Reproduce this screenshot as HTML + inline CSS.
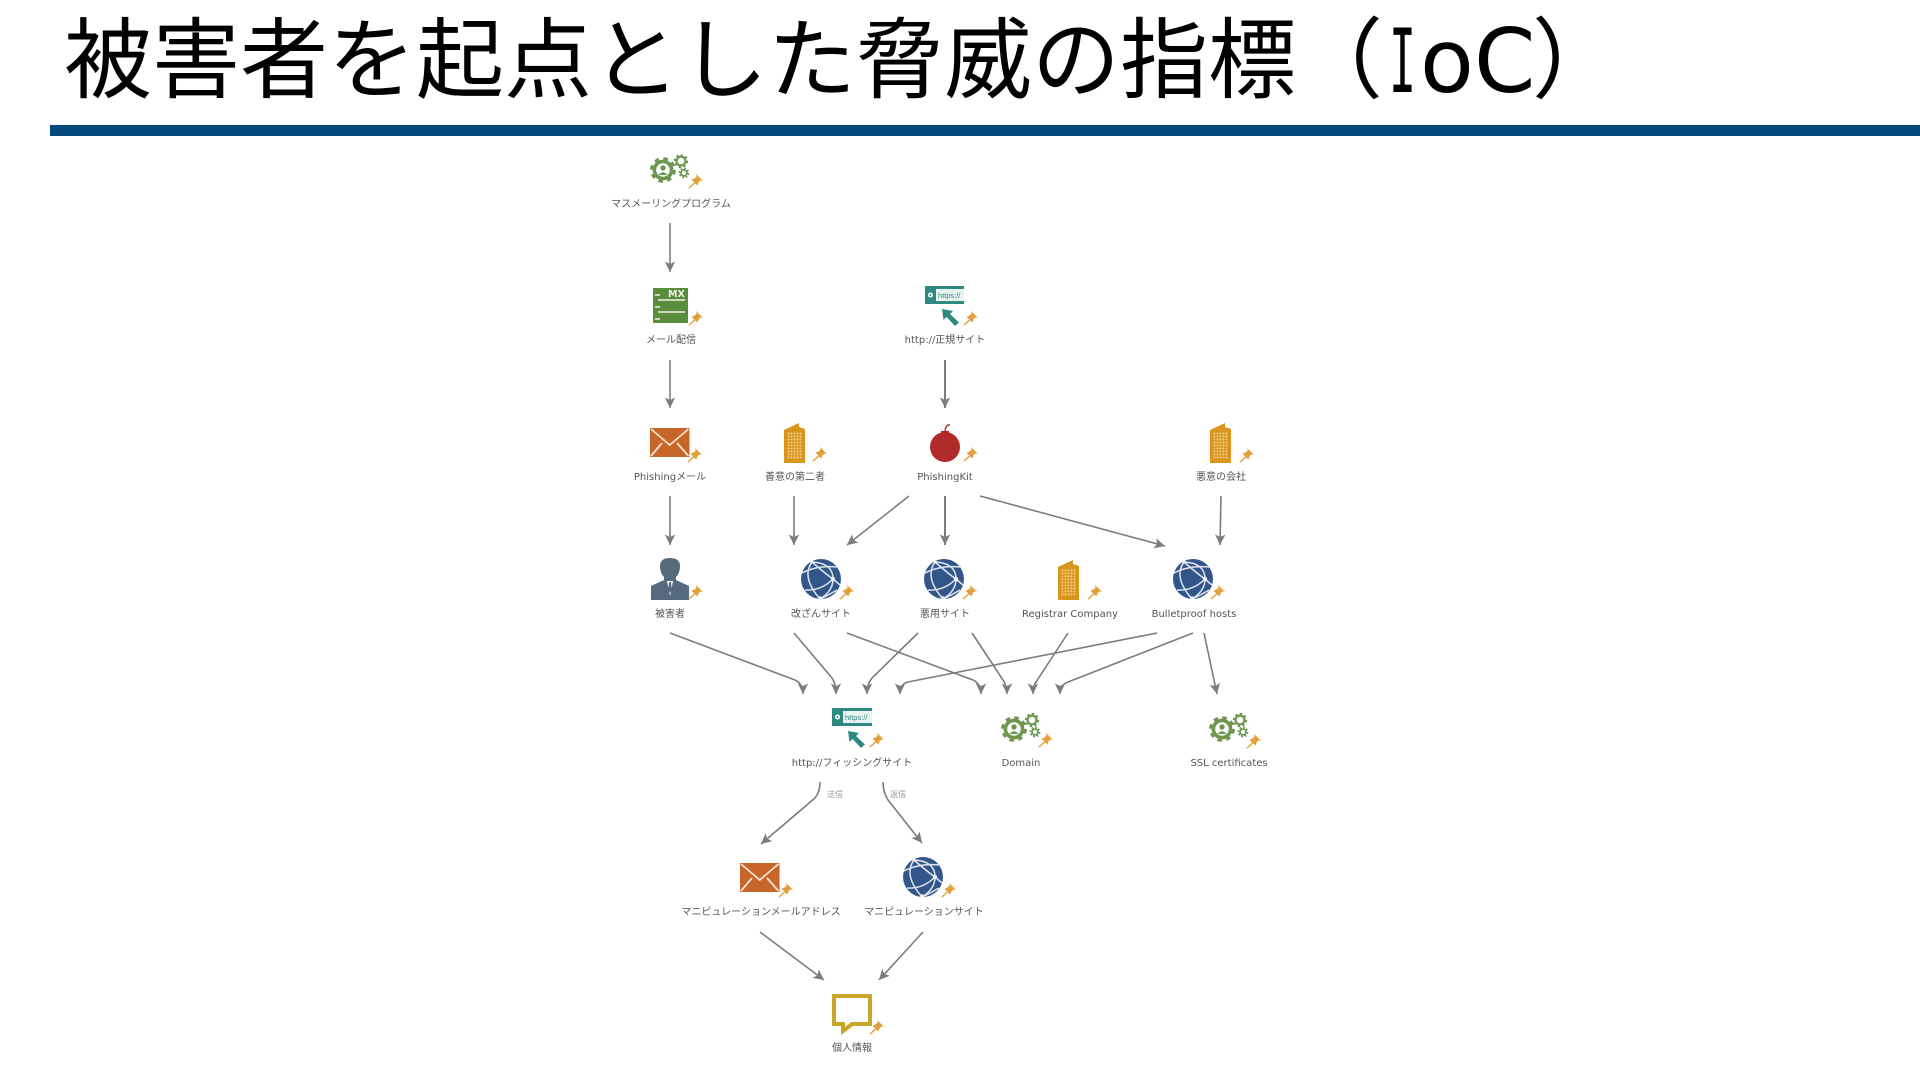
<!DOCTYPE html>
<html lang="ja"><head><meta charset="utf-8"><title>被害者を起点とした脅威の指標（IoC）</title>
<style>
html,body{margin:0;padding:0;background:#fff;width:1920px;height:1080px;overflow:hidden}
svg{display:block}
.t{font-family:"Liberation Sans","Noto Sans CJK JP",sans-serif;font-size:88px;fill:#000}
.l{font-family:"DejaVu Sans","Noto Sans CJK JP",sans-serif;font-size:10px;fill:#555;text-anchor:middle}
.s{font-family:"Noto Sans CJK JP",sans-serif;font-size:8px;fill:#999;text-anchor:middle}
.a{fill:none;stroke:#7c7c7c;stroke-width:1.6;marker-end:url(#ah)}
</style></head><body>
<svg width="1920" height="1080" viewBox="0 0 1920 1080" xmlns="http://www.w3.org/2000/svg">
<defs>
<filter id="soft" x="0" y="0" width="100%" height="100%"><feGaussianBlur stdDeviation="0.35"/></filter>
<marker id="ah" markerUnits="userSpaceOnUse" markerWidth="14" markerHeight="14" refX="11" refY="7" orient="auto"><path d="M0.500 1.800 L11 7 L0.500 12.200 L3 7z" fill="#7c7c7c"/></marker>
<pattern id="win" width="3" height="3" patternUnits="userSpaceOnUse"><rect width="3" height="3" fill="#d9951f"/><rect x=".6" y=".6" width="1.7" height="1.7" fill="#f3d48e"/></pattern>
<g id="pin" transform="scale(1.3)"><path d="M-5.500 5.500 L-1 1.500" stroke="#e2a43c" stroke-width="1.100"/><path d="M-3.500 -1 L1 3.500 L2 1 L3.500 -.5 L5.500 0 L0 -5.500 L.5 -3.500 L-1 -2z" fill="#e2a03a"/></g>
<g id="gear" fill="none" stroke="#6e9650">
<circle r="8.600" stroke-width="3.600"/><circle r="11.200" stroke-width="3.400" stroke-dasharray="4.400 4.400"/>
<circle cx="0" cy="-2" r="2.700" fill="#6e9650" stroke="none"/><path d="M-4.500 5 Q0 -.5 4.500 5z" fill="#6e9650" stroke="none"/>
<circle cx="18" cy="-9" r="4.400" stroke-width="2.200"/><circle cx="18" cy="-9" r="6.200" stroke-width="2" stroke-dasharray="2.400 2.400"/>
<circle cx="21" cy="3" r="3" stroke-width="1.800"/><circle cx="21" cy="3" r="4.600" stroke-width="1.600" stroke-dasharray="1.800 1.800"/>
</g>
<g id="bld"><path d="M0 7 L15 0 L15 4 L21 6 L21 40 L0 40z" fill="#d9951f"/><rect x="2.500" y="9" width="16" height="27" fill="url(#win)"/></g>
<g id="globe"><circle r="20" fill="#33578a"/>
<g fill="none" stroke="#dfe6ef" stroke-width="1.500">
<path d="M-9 -17 Q12 -16 12 0 Q12 12 -1 20"/><path d="M-9 -17 Q-20 -2 -1 20"/><path d="M-19 -6 Q-4 -14 17 -12"/><path d="M12 0 Q0 12 -16 11"/><path d="M-9 -17 Q6 -4 12 0 L19 6"/><path d="M-1 20 Q8 16 16 11"/>
</g>
<circle cx="12" cy="0" r="2.200" fill="#eef2f7"/><circle cx="-9" cy="-17" r="1.600" fill="#eef2f7"/><circle cx="-1" cy="19" r="1.800" fill="#eef2f7"/></g>
<g id="mail"><rect width="39.500" height="29" fill="#c8652a"/><path d="M1 1 L19.700 17 L38.500 1 M1 28 L12 15 M38.500 28 L27 15" fill="none" stroke="#f8e5d0" stroke-width="1.800"/></g>
<g id="cur"><path d="M0 0 L11 2 L8 5 L17 13.500 L13 17 L4.500 8 L1.500 11z" fill="#2f8a80"/></g>
</defs>

<text class="t" x="64" y="91">被害者を起点とした脅威の指標</text>
<text class="t" x="1295" y="91">（</text>
<text x="1389" y="92" font-family="'DejaVu Sans Mono',monospace" font-size="88" textLength="27" lengthAdjust="spacingAndGlyphs" fill="#000">I</text>
<text x="1420" y="92" font-family="'DejaVu Sans',sans-serif" font-size="88" fill="#000">o</text>
<text x="1474" y="92" font-family="'DejaVu Sans',sans-serif" font-size="88" fill="#000">C</text>
<text class="t" x="1532" y="91">）</text>
<rect x="50" y="125" width="1870" height="11" fill="#02497a"/>

<g filter="url(#soft)">
<!-- connectors -->
<path class="a" d="M670 223V272"/>
<path class="a" d="M670 360V408"/>
<path class="a" d="M670 496V545"/>
<path class="a" d="M794 496V545"/>
<path class="a" style="stroke-width:2" d="M945 360V408"/>
<path class="a" d="M909 496L847 545"/>
<path class="a" style="stroke-width:2" d="M945 496V545"/>
<path class="a" d="M980 496L1165 546"/>
<path class="a" d="M1221 496L1220 545"/>
<path class="a" d="M670 633L795 680Q803 684 803 694"/>
<path class="a" d="M794 633L832 678Q836 684 836 694"/>
<path class="a" d="M847 633L973 680Q981 684 981 694"/>
<path class="a" d="M918 633L872 678Q867 684 867 694"/>
<path class="a" d="M972 633L1003 680Q1007 686 1007 694"/>
<path class="a" d="M1068 633L1036 682Q1033 686 1033 694"/>
<path class="a" d="M1157 633L908 682Q900 684 900 694"/>
<path class="a" d="M1193 633L1068 682Q1060 685 1060 694"/>
<path class="a" d="M1204 633L1217 694"/>
<path class="a" d="M820 782Q820 792 815 798L761 844"/>
<path class="a" d="M883 782Q883 792 888 800L922 843"/>
<path class="a" d="M760 932L824 980"/>
<path class="a" d="M923 932L879 980"/>
<text class="s" x="835" y="797">送信</text>
<text class="s" x="898" y="797">返信</text>

<!-- row 1 -->
<use href="#gear" x="663" y="170"/><use href="#pin" x="696" y="181"/>
<text class="l" x="671" y="207">マスメーリングプログラム</text>

<!-- row 2 -->
<rect x="653" y="288" width="35" height="35" fill="#5a8c3c"/>
<path d="M658 300H685M658 312H685" stroke="#eef4e6" stroke-width="1.500"/>
<path d="M655 295H660M655 307H660M655 319H660" stroke="#eef4e6" stroke-width="1.500"/>
<text x="668" y="297" font-family="'DejaVu Sans',sans-serif" font-weight="700" font-size="9.500" fill="#eef4e6">MX</text>
<use href="#pin" x="696" y="318"/>
<text class="l" x="671" y="343">メール配信</text>

<rect x="925" y="286" width="39" height="18" fill="#2f8a80"/>
<rect x="936" y="289" width="28" height="12" fill="#e9f4f2"/>
<circle cx="930.500" cy="295" r="2.500" fill="#fff"/><circle cx="930.500" cy="295" r="1" fill="#2f8a80"/>
<text x="938" y="298" font-family="'Liberation Sans',sans-serif" font-size="7.500" fill="#2f8a80">https://</text>
<use href="#cur" x="942" y="309"/><use href="#pin" x="971" y="318"/>
<text class="l" x="945" y="343">http://正規サイト</text>

<!-- row 3 -->
<use href="#mail" x="650" y="428"/><use href="#pin" x="695" y="455"/>
<text class="l" x="670" y="480">Phishingメール</text>
<use href="#bld" x="784" y="423"/><use href="#pin" x="820" y="454"/>
<text class="l" x="795" y="480">善意の第二者</text>
<circle cx="945" cy="447" r="15" fill="#b02a2a"/><rect x="941" y="431" width="8" height="3" fill="#b02a2a"/><path d="M945 431Q946 424 950 425" fill="none" stroke="#b02a2a" stroke-width="1.400"/>
<use href="#pin" x="971" y="454"/>
<text class="l" x="945" y="480">PhishingKit</text>
<use href="#bld" x="1210" y="423"/><use href="#pin" x="1247" y="455"/>
<text class="l" x="1221" y="480">悪意の会社</text>

<!-- row 4 -->
<path d="M664 577Q660 573 660 566Q660 558 670 558Q680 558 680 566Q680 573 676 577L676 580L689 586V600H651V586L664 580z" fill="#546a7b"/>
<path d="M667 581L670 596L673 581z" fill="#fff"/><path d="M669 582h2l.7 8-1.700 3-1.700-3z" fill="#546a7b"/>
<use href="#pin" x="696" y="592"/>
<text class="l" x="670" y="617">被害者</text>
<use href="#globe" x="821" y="579"/><use href="#pin" x="847" y="592"/>
<text class="l" x="821" y="617">改ざんサイト</text>
<use href="#globe" x="944" y="579"/><use href="#pin" x="970" y="592"/>
<text class="l" x="945" y="617">悪用サイト</text>
<use href="#bld" x="1058" y="560"/><use href="#pin" x="1095" y="592"/>
<text class="l" x="1070" y="617">Registrar Company</text>
<use href="#globe" x="1193" y="579"/><use href="#pin" x="1218" y="592"/>
<text class="l" x="1194" y="617">Bulletproof hosts</text>

<!-- row 5 -->
<rect x="832" y="708" width="40" height="18" fill="#2f8a80"/>
<rect x="843" y="711" width="29" height="12" fill="#e9f4f2"/>
<circle cx="837.500" cy="717" r="2.500" fill="#fff"/><circle cx="837.500" cy="717" r="1" fill="#2f8a80"/>
<text x="845" y="720" font-family="'Liberation Sans',sans-serif" font-size="7.500" fill="#2f8a80">https://</text>
<use href="#cur" x="848" y="731"/><use href="#pin" x="877" y="740"/>
<text class="l" x="852" y="766">http://フィッシングサイト</text>
<use href="#gear" x="1014" y="729"/><use href="#pin" x="1046" y="740"/>
<text class="l" x="1021" y="766">Domain</text>
<use href="#gear" x="1222" y="729"/><use href="#pin" x="1254" y="741"/>
<text class="l" x="1229" y="766">SSL certificates</text>

<!-- row 6 -->
<use href="#mail" x="740" y="863"/><use href="#pin" x="786" y="890"/>
<text class="l" x="761" y="915">マニピュレーションメールアドレス</text>
<use href="#globe" x="923" y="877"/><use href="#pin" x="949" y="890"/>
<text class="l" x="924" y="915">マニピュレーションサイト</text>

<!-- row 7 -->
<path d="M834 996H870V1024H852L843 1031V1024H834z" fill="none" stroke="#c9a62a" stroke-width="4"/>
<use href="#pin" x="877" y="1027"/>
<text class="l" x="852" y="1051">個人情報</text>
</g>
</svg>
</body></html>
